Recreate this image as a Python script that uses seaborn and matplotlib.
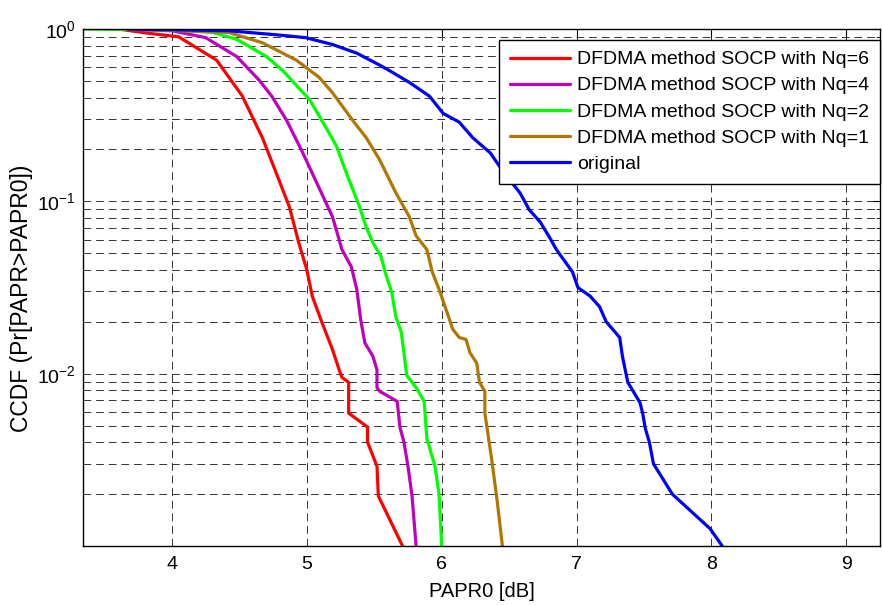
import matplotlib
matplotlib.use("Agg")
import matplotlib.pyplot as plt
from matplotlib.ticker import LogLocator, NullFormatter, NullLocator
import seaborn as sns

# PAPR0 [dB] and CCDF values
x_nq6 = [3.60, 3.81, 4.05, 4.33, 4.52, 4.67, 4.77, 4.87, 4.94, 5.00, 5.04,
         5.11, 5.19, 5.24, 5.26, 5.31, 5.31, 5.45, 5.45, 5.52, 5.53, 5.71]
p_nq6 = [1.0, 0.948, 0.90, 0.66, 0.41, 0.234, 0.148, 0.093, 0.0575, 0.040,
         0.0282, 0.020, 0.0138, 0.0105, 0.0095, 0.0089, 0.0059, 0.0049,
         0.0040, 0.0029, 0.00195, 0.001]

x_nq4 = [3.55, 4.00, 4.25, 4.48, 4.65, 4.74, 4.85, 4.97, 5.09, 5.19, 5.22,
         5.26, 5.33, 5.37, 5.40, 5.43, 5.49, 5.52, 5.52, 5.54, 5.67, 5.69,
         5.72, 5.75, 5.78, 5.81]
p_nq4 = [1.0, 0.977, 0.891, 0.692, 0.501, 0.407, 0.295, 0.191, 0.120,
         0.0813, 0.0676, 0.0525, 0.0417, 0.0309, 0.0204, 0.0151, 0.0126,
         0.0105, 0.0083, 0.0079, 0.0069, 0.0049, 0.0040, 0.0029, 0.00195,
         0.001]

x_nq2 = [3.34, 4.00, 4.30, 4.48, 4.70, 4.82, 4.89, 5.02, 5.14, 5.22, 5.29,
         5.39, 5.44, 5.49, 5.55, 5.58, 5.63, 5.66, 5.70, 5.72, 5.74, 5.81,
         5.87, 5.89, 5.95, 5.98, 6.00]
p_nq2 = [1.0, 0.989, 0.955, 0.871, 0.692, 0.575, 0.501, 0.389, 0.269, 0.209,
         0.148, 0.0933, 0.0708, 0.0575, 0.0479, 0.0389, 0.0295, 0.0214,
         0.0174, 0.0132, 0.0098, 0.0083, 0.0069, 0.0042, 0.0029, 0.0020,
         0.001]

x_nq1 = [3.70, 4.42, 4.67, 4.92, 5.09, 5.19, 5.34, 5.44, 5.54, 5.66, 5.76,
         5.81, 5.89, 5.93, 5.98, 6.06, 6.08, 6.13, 6.18, 6.21, 6.26, 6.28,
         6.32, 6.32, 6.37, 6.41, 6.45]
p_nq1 = [1.0, 0.955, 0.832, 0.661, 0.525, 0.427, 0.295, 0.234, 0.174, 0.112,
         0.0813, 0.0631, 0.0525, 0.0389, 0.0309, 0.0204, 0.0182, 0.0162,
         0.0158, 0.0132, 0.0115, 0.0089, 0.0079, 0.0059, 0.0032, 0.00186,
         0.001]

x_orig = [3.67, 4.42, 4.79, 4.99, 5.19, 5.37, 5.54, 5.61, 5.76, 5.91, 6.01,
          6.13, 6.23, 6.36, 6.45, 6.58, 6.65, 6.73, 6.80, 6.85, 6.97, 7.01,
          7.10, 7.17, 7.22, 7.32, 7.34, 7.38, 7.47, 7.49, 7.51, 7.54, 7.57,
          7.71, 7.99, 8.08]
p_orig = [1.0, 0.977, 0.923, 0.891, 0.813, 0.724, 0.617, 0.575, 0.490, 0.407,
          0.324, 0.288, 0.234, 0.191, 0.151, 0.112, 0.0891, 0.0759, 0.0617,
          0.0525, 0.0389, 0.0316, 0.0282, 0.0245, 0.0200, 0.0162, 0.0126,
          0.0089, 0.0068, 0.0059, 0.0048, 0.0040, 0.0030, 0.0020, 0.00126,
          0.001]

labels = ["DFDMA method SOCP with Nq=6", "DFDMA method SOCP with Nq=4",
          "DFDMA method SOCP with Nq=2", "DFDMA method SOCP with Nq=1",
          "original"]
colors = ["#ff0000", "#bf00bf", "#00ff00", "#b07800", "#0000ff"]

sns.set_style("white")
plt.rcParams["font.family"] = ["Liberation Sans", "DejaVu Sans"]
plt.rcParams["mathtext.fontset"] = "custom"
plt.rcParams["mathtext.rm"] = "Liberation Sans"
plt.rcParams["mathtext.it"] = "Liberation Sans"
plt.rcParams["axes.unicode_minus"] = False
plt.rcParams["text.color"] = "black"
plt.rcParams["axes.labelcolor"] = "black"

fig = plt.figure(figsize=(8.83, 6.05), dpi=100)
ax = fig.add_axes([83 / 883, 59 / 605, 797 / 883, 517 / 605])

series = [(x_nq6, p_nq6), (x_nq4, p_nq4), (x_nq2, p_nq2),
          (x_nq1, p_nq1), (x_orig, p_orig)]
for (xs, ps), lab, col in zip(series, labels, colors):
    sns.lineplot(x=xs, y=ps, sort=False, estimator=None, color=col,
                 linewidth=2.3, label=lab, ax=ax)

ax.set_yscale("log")
ax.set_xlim(3.34, 9.25)
ax.set_ylim(1e-3, 1)
ax.set_xticks([4, 5, 6, 7, 8, 9])
ax.xaxis.set_minor_locator(NullLocator())
ax.set_yticks([1e-2, 1e-1, 1])
ax.yaxis.set_minor_locator(LogLocator(base=10, subs=range(2, 10)))
ax.yaxis.set_minor_formatter(NullFormatter())

grid_kw = dict(color="#333333", linestyle=(0, (8, 5)), linewidth=0.7)
ax.grid(True, which="major", axis="both", **grid_kw)
ax.grid(True, which="minor", axis="y", **grid_kw)

ax.tick_params(which="both", direction="in", top=True, right=True,
               labelsize=14, colors="black")
ax.tick_params(which="major", length=5)
ax.tick_params(which="minor", length=3)
ax.tick_params(axis="x", pad=7)
ax.tick_params(axis="y", pad=5)
for s in ax.spines.values():
    s.set_color("black")
    s.set_linewidth(1.0)

ax.set_xlabel("PAPR0 [dB]", fontsize=14.5, labelpad=7)
ax.set_ylabel("CCDF (Pr[PAPR>PAPR0])", fontsize=16.5)
ax.yaxis.set_label_coords(-0.063, 0.48)

leg = ax.legend(loc="upper right", bbox_to_anchor=(1.0, (546 - 40) / 517),
                borderaxespad=0, fontsize=14, handlelength=3.1,
                labelspacing=0.44, fancybox=False, framealpha=1,
                edgecolor="black", borderpad=0.55, handletextpad=0.35)
leg.get_frame().set_linewidth(1.0)

fig.savefig("out.png", dpi=100)
